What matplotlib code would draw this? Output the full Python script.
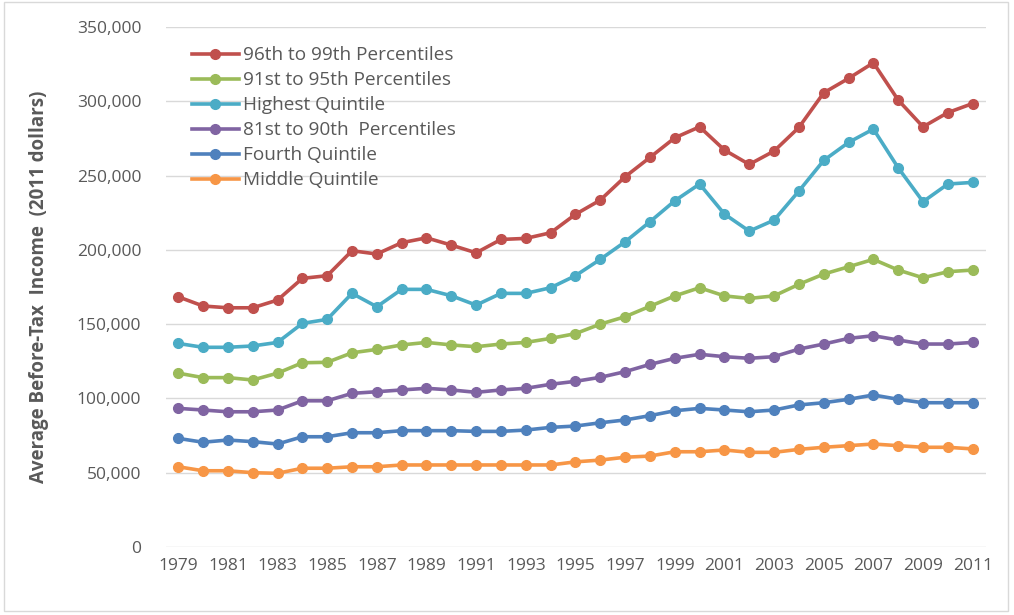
import matplotlib.pyplot as plt
from matplotlib.patches import Rectangle
from matplotlib.ticker import FuncFormatter

years = list(range(1979, 2012))

p96_99 = [168400, 162200, 161000, 161000, 166200, 180800, 182600, 199400, 197200, 204800,
          208100, 203200, 198000, 207000, 207700, 211500, 223900, 233500, 249200, 262200,
          275400, 282800, 267200, 257500, 266500, 282400, 305700, 315400, 325900, 300800,
          282800, 292400, 298500]
p91_95 = [117000, 114000, 114000, 112400, 117000, 124000, 124300, 130700, 133000, 136000,
          137700, 136000, 134800, 136600, 137700, 140400, 143600, 150000, 155000, 162000,
          169000, 174500, 169000, 167300, 169000, 176800, 183700, 188600, 193600, 186400,
          181200, 185300, 186400]
highest = [137000, 134400, 134400, 135300, 137700, 150500, 153200, 170700, 161700, 173400,
           173400, 169100, 162800, 170700, 170700, 174500, 182600, 193600, 205400, 218900,
           233000, 244300, 224100, 212600, 220000, 239600, 260200, 272300, 281300, 255200,
           232400, 244300, 245400]
p81_90 = [93300, 92200, 91000, 91000, 92200, 98400, 98400, 103400, 104500, 105700,
          106800, 105700, 104100, 105700, 106800, 109500, 111500, 114200, 118000, 122900,
          127000, 129700, 128100, 127000, 128100, 133200, 136600, 140400, 142200, 139300,
          136600, 136600, 137700]
fourth = [73100, 70500, 72000, 70900, 69300, 74200, 74200, 76900, 76900, 78300,
          78300, 78300, 77800, 77800, 78700, 80500, 81400, 83600, 85500, 88400,
          91700, 93300, 92200, 91000, 92200, 95600, 97100, 99400, 102300, 99400,
          97100, 97100, 97100]
middle = [54000, 51300, 51300, 50000, 49600, 53000, 53000, 54000, 54000, 55200,
          55200, 55200, 55200, 55200, 55200, 55200, 57300, 58500, 60400, 61200,
          64100, 64100, 65300, 63700, 63700, 65700, 67100, 68200, 69300, 68200,
          67100, 67100, 66000]

labels = ['96th to 99th Percentiles', '91st to 95th Percentiles', 'Highest Quintile',
          '81st to 90th  Percentiles', 'Fourth Quintile', 'Middle Quintile']
colors = ['#C0504D', '#9BBB59', '#4BACC6', '#8064A2', '#4F81BD', '#F79646']

plt.rcParams['font.family'] = ['Open Sans', 'DejaVu Sans']
grey = '#595959'

fig = plt.figure(figsize=(10.14, 6.15), dpi=100)
ax = fig.add_axes([0.164, 0.1106, 0.808, 0.8455])

for y, lab, c in zip([p96_99, p91_95, highest, p81_90, fourth, middle], labels, colors):
    ax.plot(years, y, color=c, lw=2.6, marker='o', ms=7, label=lab)

ax.set_xlim(1978.52, 2011.52)
ax.set_ylim(0, 350000)
ax.set_yticks(range(0, 350001, 50000))
ax.yaxis.set_major_formatter(FuncFormatter(lambda v, p: f'{int(v):,}'))
ax.set_xticks(range(1979, 2012, 2))
ax.grid(axis='y', color='#d9d9d9', lw=1)
ax.set_axisbelow(True)
for s in ax.spines.values():
    s.set_visible(False)
ax.tick_params(length=0, labelsize=12.5, labelcolor=grey, pad=8)
ax.tick_params(axis='y', pad=18)
ax.set_ylabel('Average Before-Tax  Income  (2011 dollars)', fontsize=13.5,
              fontweight='bold', color=grey, labelpad=20)

leg = ax.legend(loc='upper left', bbox_to_anchor=(0.017, 0.985), frameon=False,
                fontsize=13.7, labelcolor=grey, handlelength=2.5, handletextpad=0.2,
                labelspacing=0.37, borderaxespad=0.2)

fig.add_artist(Rectangle((0.004, 0.006), 0.99, 0.99, transform=fig.transFigure,
                         fill=False, edgecolor='#d9d9d9', lw=1))

fig.savefig('out.png', dpi=100)
